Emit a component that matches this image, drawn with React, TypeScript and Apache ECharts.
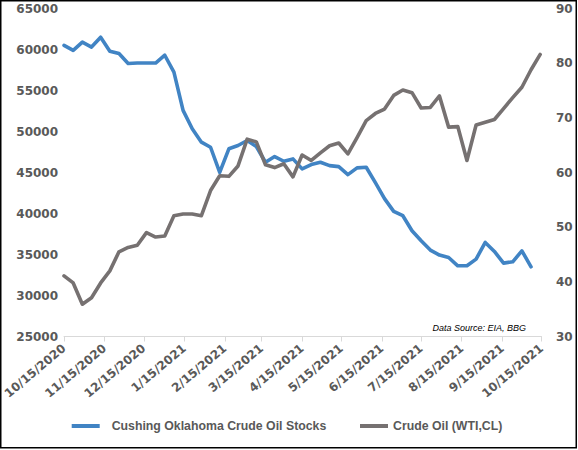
import React, { useEffect, useRef } from "react";
import * as echarts from "echarts";

const dates: string[] = [
  "2020-10-15", "2020-10-22", "2020-10-29", "2020-11-05", "2020-11-12", "2020-11-19", "2020-11-26",
  "2020-12-03", "2020-12-10", "2020-12-17", "2020-12-24", "2020-12-31",
  "2021-01-07", "2021-01-14", "2021-01-21", "2021-01-28",
  "2021-02-04", "2021-02-11", "2021-02-18", "2021-02-25",
  "2021-03-04", "2021-03-11", "2021-03-18", "2021-03-25",
  "2021-04-01", "2021-04-08", "2021-04-15", "2021-04-22", "2021-04-29",
  "2021-05-06", "2021-05-13", "2021-05-20", "2021-05-27",
  "2021-06-03", "2021-06-10", "2021-06-17", "2021-06-24",
  "2021-07-01", "2021-07-08", "2021-07-15", "2021-07-22", "2021-07-29",
  "2021-08-05", "2021-08-12", "2021-08-19", "2021-08-26",
  "2021-09-02", "2021-09-09", "2021-09-16", "2021-09-23", "2021-09-30",
  "2021-10-07", "2021-10-14",
];

// Cushing, Oklahoma crude oil stocks (thousand barrels), weekly
const cushingStocks: number[] = [
  60500, 59900, 60900, 60300, 61500, 59800, 59500, 58300, 58350, 58350,
  58350, 59300, 57250, 52570, 50330, 48700, 48080, 45020, 47890, 48290,
  48900, 48170, 46250, 46940, 46370, 46660, 45440, 45970, 46250, 45840,
  45720, 44740, 45560, 45640, 43770, 41810, 40260, 39730, 37900, 36670,
  35540, 34930, 34630, 33620, 33620, 34440, 36470, 35370, 33950, 34110,
  35450, 33500,
];

// WTI crude oil price (USD/bbl), weekly
const wtiPrice: number[] = [
  41.1, 39.8, 35.9, 37.1, 39.8, 42.0, 45.5, 46.3, 46.7, 49.0,
  48.2, 48.4, 52.1, 52.4, 52.4, 52.1, 56.7, 59.4, 59.3, 61.2,
  66.1, 65.6, 61.4, 60.9, 61.6, 59.2, 63.2, 62.2, 63.6, 64.9,
  65.4, 63.4, 66.4, 69.5, 70.8, 71.6, 74.1, 75.1, 74.6, 71.8,
  71.9, 74.0, 68.3, 68.4, 62.2, 68.7, 69.2, 69.7, 71.7, 73.7,
  75.6, 78.8, 81.6,
];

const tickDates: string[] = [
  "2020-10-15", "2020-11-15", "2020-12-15", "2021-01-15", "2021-02-15",
  "2021-03-15", "2021-04-15", "2021-05-15", "2021-06-15", "2021-07-15",
  "2021-08-15", "2021-09-15", "2021-10-15",
];

const seriesNames = ["Cushing Oklahoma Crude Oil Stocks", "Crude Oil (WTI,CL)"];
const sourceNote = "Data Source: EIA, BBG";

const toTs = (s: string) => {
  const [y, m, d] = s.split("-").map(Number);
  return new Date(y, m - 1, d).getTime();
};

export default function App() {
  const ref = useRef<HTMLDivElement>(null);

  useEffect(() => {
    if (!ref.current) return;
    const chart = echarts.init(ref.current, undefined, { renderer: "svg" });
    const tickTs = tickDates.map(toTs);
    const labelColor = "#595959";
    const axisFont = "DejaVu Sans";

    chart.setOption({
      animation: false,
      backgroundColor: "#ffffff",
      grid: { left: 60, right: 36.5, top: 8.5, bottom: 113.5, containLabel: false },
      xAxis: {
        type: "value",
        min: tickTs[0],
        max: tickTs[tickTs.length - 1],
        scale: true,
        splitLine: { show: false },
        axisLine: { show: true, lineStyle: { color: "#D9D9D9", width: 1 } },
        axisTick: { show: true, length: 5, customValues: tickTs, lineStyle: { color: "#D9D9D9" } },
        axisLabel: {
          customValues: tickTs,
          rotate: 40,
          margin: 10,
          color: labelColor,
          fontFamily: axisFont,
          fontWeight: "bold",
          fontSize: 12,
          formatter: (v: number) => {
            const d = new Date(v);
            return `${d.getMonth() + 1}/${d.getDate()}/${d.getFullYear()}`;
          },
        },
      },
      yAxis: [
        {
          type: "value",
          min: 25000,
          max: 65000,
          interval: 5000,
          splitLine: { show: false },
          axisLine: { show: false },
          axisTick: { show: false },
          axisLabel: {
            color: labelColor,
            fontFamily: axisFont,
            fontWeight: "bold",
            fontSize: 12,
            margin: 6,
            formatter: (v: number) => String(v),
          },
        },
        {
          type: "value",
          min: 30,
          max: 90,
          interval: 10,
          position: "right",
          splitLine: { show: false },
          axisLine: { show: false },
          axisTick: { show: false },
          axisLabel: {
            color: labelColor,
            fontFamily: axisFont,
            fontWeight: "bold",
            fontSize: 12,
            margin: 14.5,
            formatter: (v: number) => String(v),
          },
        },
      ],
      legend: [
        {
          data: [seriesNames[0]],
          left: 66.7,
          top: 414,
          icon: "rect",
          itemWidth: 28,
          itemHeight: 4,
          textStyle: {
            color: labelColor,
            fontFamily: "Liberation Sans",
            fontWeight: "bold",
            fontSize: 12.3,
            lineHeight: 14,
            padding: [0, 0, 0, 7],
          },
        },
        {
          data: [seriesNames[1]],
          left: 355,
          top: 414,
          icon: "rect",
          itemWidth: 28,
          itemHeight: 4,
          textStyle: {
            color: labelColor,
            fontFamily: "Liberation Sans",
            fontWeight: "bold",
            fontSize: 12.3,
            lineHeight: 14,
          },
        },
      ],
      graphic: [
        {
          type: "rect",
          silent: true,
          shape: { x: 0.75, y: 0.75, width: 575.5, height: 447 },
          style: { fill: "none", stroke: "#000000", lineWidth: 1.5 },
        },
        {
          type: "text",
          x: 526,
          y: 327.7,
          silent: true,
          style: {
            text: sourceNote,
            fill: "#000000",
            font: "italic 9px 'Liberation Sans'",
            align: "right",
            verticalAlign: "middle",
          },
        },
      ],
      series: [
        {
          name: seriesNames[0],
          type: "line",
          yAxisIndex: 0,
          symbol: "none",
          data: cushingStocks.map((v, i) => [toTs(dates[i]), v]),
          itemStyle: { color: "#4184C4" },
          lineStyle: { color: "#4184C4", width: 3.6, cap: "round", join: "round" },
        },
        {
          name: seriesNames[1],
          type: "line",
          yAxisIndex: 1,
          symbol: "none",
          data: wtiPrice.map((v, i) => [toTs(dates[i]), v]),
          itemStyle: { color: "#767171" },
          lineStyle: { color: "#767171", width: 3.6, cap: "round", join: "round" },
        },
      ],
    });

    return () => chart.dispose();
  }, []);

  return (
    <div
      ref={ref}
      style={{ position: "fixed", left: 0, top: 0, width: 578, height: 450, background: "#fff" }}
    />
  );
}
